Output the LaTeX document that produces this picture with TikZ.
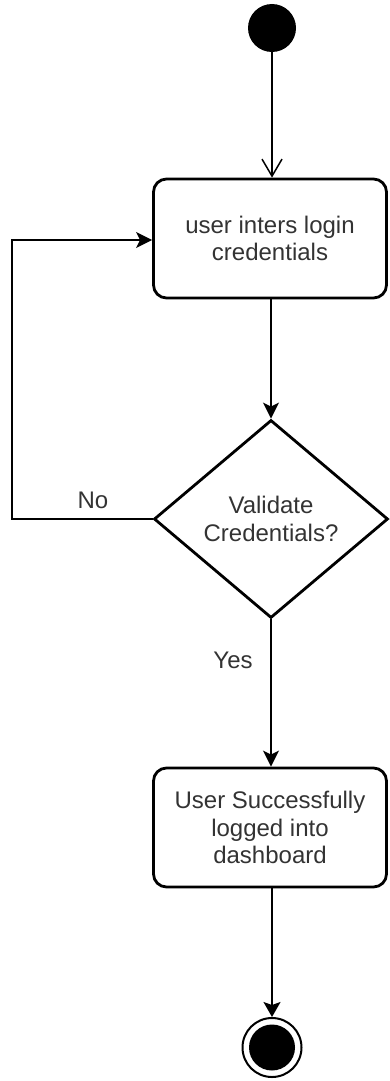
\documentclass[tikz,border=0pt]{standalone}
\usepackage{fontspec}
\setmainfont{Liberation Sans}
\usetikzlibrary{shapes.geometric,arrows.meta}
\definecolor{labelgray}{HTML}{333333}
\begin{document}
\begin{tikzpicture}[x=1pt,y=-1pt,
  every node/.style={font=\fontsize{24}{27.6}\selectfont, text=labelgray},
  actbox/.style={draw, rounded corners=13pt, line width=2.8pt, align=center,
    minimum width=233pt, minimum height=119pt, inner sep=0pt},
  decision/.style={draw, diamond, line width=2.8pt, align=center,
    minimum width=234pt, minimum height=198pt, inner sep=0pt},
  startdot/.style={circle, fill=black, minimum size=48pt, inner sep=0pt},
  enddot/.style={circle, draw, line width=2pt, minimum size=59pt, inner sep=0pt,
    path picture={\fill[black] (path picture bounding box.center) circle (23pt);}},
  flow/.style={line width=1.6pt, -{Stealth[length=16pt,width=16pt,inset=4pt]}},
  openflow/.style={line width=1.5pt, -{Straight Barb[length=17pt,width=20pt]}},
  edgelabel/.style={text=labelgray}
]
\useasboundingbox (0,0) rectangle (389,1081);

\node[startdot] (start) at (272,28) {};
\node[actbox] (login) at (270,238.5) {user inters login\\credentials};
\node[decision] (check) at (271,519) {Validate\\Credentials?};
\node[actbox] (done) at (270,827.5) {User Successfully\\logged into\\dashboard};
\node[enddot] (stop) at (272,1047.5) {};

\coordinate (loopbottom) at (12,519);
\coordinate (looptop) at (12,240);

\draw[openflow] (start) -- (start |- login.north);
\draw[flow] (login.south -| check.north) -- (check.north);
\draw[flow] (check.west) -- (loopbottom) -- (looptop) -- (looptop -| login.west);
\draw[flow] (check.south) -- (check.south |- done.north);
\draw[flow, -{Stealth[length=15pt,width=17pt,inset=3pt]}] (done.south -| stop.north) -- (stop.north);

\node[edgelabel] (nolabel) at (93,500) {No};
\node[edgelabel] (yeslabel) at (233,660) {Yes};
\end{tikzpicture}
\end{document}
